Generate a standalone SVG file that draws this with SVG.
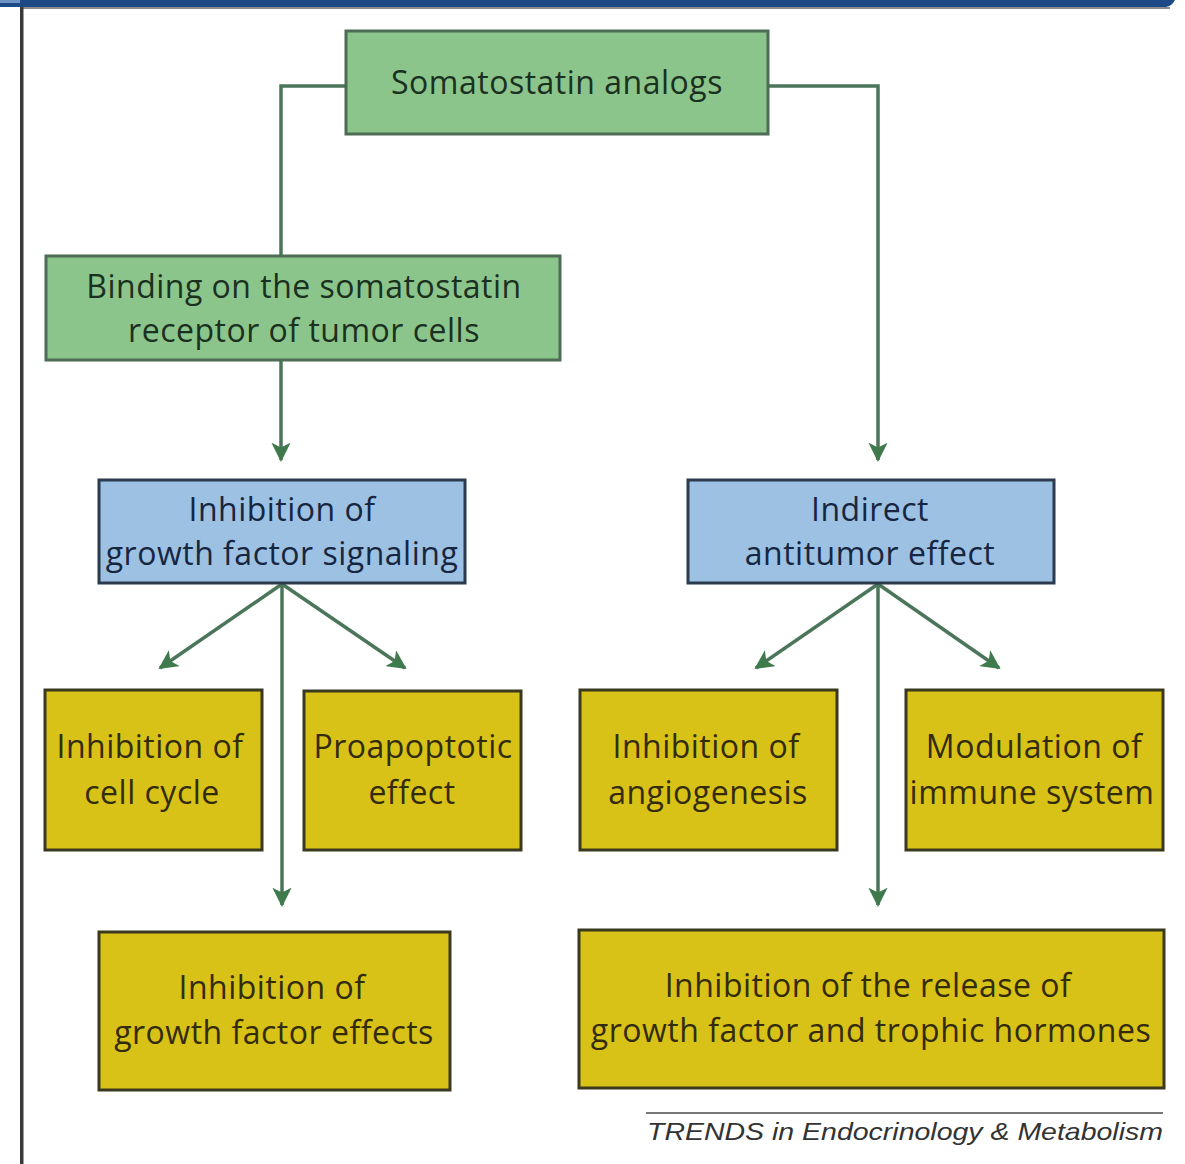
<svg xmlns="http://www.w3.org/2000/svg" width="1185" height="1164" viewBox="0 0 1185 1164">
<defs>
<style>
.box{stroke-width:3}
.g{fill:#8cc58b;stroke:#4d6b55}
.b{fill:#9dc1e3;stroke:#2b3a4c}
.y{fill:#d9c217;stroke:#3b3820}
.t{font-family:"Open Sans",Lato,sans-serif;font-size:32px;letter-spacing:0.5px;text-anchor:middle}
.tg{fill:#1a3020}
.tb{fill:#172640}
.ty{fill:#332c0c}
.c{fill:none;stroke:#4b765a;stroke-width:3.5}
</style>
<marker id="ah" viewBox="0 0 10 10" refX="9" refY="5" markerWidth="5.5" markerHeight="5.5" markerUnits="strokeWidth" orient="auto">
<path d="M0,0 L10,5 L0,10 L2.5,5 Z" fill="#3f7a4c"/>
</marker>
</defs>
<rect width="1185" height="1164" fill="#ffffff"/>
<path d="M0,0 H1175 Q1172,6 1166,7 H0 Z" fill="#1d4a86"/>
<rect x="0" y="0" width="20" height="3" fill="#6f93c4"/>
<rect x="20" y="7" width="1150" height="2" fill="#8c8c8c"/>
<rect x="20" y="7" width="3.5" height="1157" fill="#3a3a3a"/>

<g id="connectors">
<path class="c" d="M346,86 H281 V255"/>
<path class="c" d="M768,86 H878 V460" marker-end="url(#ah)"/>
<path class="c" d="M281,360 V460" marker-end="url(#ah)"/>
<path class="c" d="M282,584 L160,668" marker-end="url(#ah)"/>
<path class="c" d="M282,584 L405,668" marker-end="url(#ah)"/>
<path class="c" d="M282,584 V905" marker-end="url(#ah)"/>
<path class="c" d="M878,584 L756,668" marker-end="url(#ah)"/>
<path class="c" d="M878,584 L999,668" marker-end="url(#ah)"/>
<path class="c" d="M878,584 V905" marker-end="url(#ah)"/>
</g>

<g id="n-somatostatin">
<rect class="box g" x="346" y="31" width="422" height="103"/>
<text class="t tg" x="557" y="94">Somatostatin analogs</text>
</g>
<g id="n-binding">
<rect class="box g" x="46" y="256" width="514" height="104"/>
<text class="t tg" x="304" y="298">Binding on the somatostatin</text>
<text class="t tg" x="304" y="342">receptor of tumor cells</text>
</g>
<g id="n-signaling">
<rect class="box b" x="99" y="480" width="366" height="103"/>
<text class="t tb" x="282" y="521">Inhibition of</text>
<text class="t tb" x="282" y="565">growth factor signaling</text>
</g>
<g id="n-indirect">
<rect class="box b" x="688" y="480" width="366" height="103"/>
<text class="t tb" x="870" y="521">Indirect</text>
<text class="t tb" x="870" y="565">antitumor effect</text>
</g>
<g id="n-cellcycle">
<rect class="box y" x="45" y="690" width="217" height="160"/>
<text class="t ty" x="150" y="758">Inhibition of</text>
<text class="t ty" x="152" y="804">cell cycle</text>
</g>
<g id="n-proapoptotic">
<rect class="box y" x="304" y="691" width="217" height="159"/>
<text class="t ty" x="413" y="758">Proapoptotic</text>
<text class="t ty" x="412" y="804">effect</text>
</g>
<g id="n-angiogenesis">
<rect class="box y" x="580" y="690" width="257" height="160"/>
<text class="t ty" x="706" y="758">Inhibition of</text>
<text class="t ty" x="708" y="804">angiogenesis</text>
</g>
<g id="n-immune">
<rect class="box y" x="906" y="690" width="257" height="160"/>
<text class="t ty" x="1034" y="758">Modulation of</text>
<text class="t ty" x="1032" y="804">immune system</text>
</g>
<g id="n-gfeffects">
<rect class="box y" x="99" y="932" width="351" height="158"/>
<text class="t ty" x="272" y="999">Inhibition of</text>
<text class="t ty" x="274" y="1044">growth factor effects</text>
</g>
<g id="n-release">
<rect class="box y" x="579" y="930" width="585" height="158"/>
<text class="t ty" x="868" y="997">Inhibition of the release of</text>
<text class="t ty" x="871" y="1042">growth factor and trophic hormones</text>
</g>

<g id="footer">
<line x1="646" y1="1113" x2="1163" y2="1113" stroke="#777" stroke-width="2"/>
<text x="1163" y="1140" text-anchor="end" font-family="'Liberation Sans',Arial,sans-serif" font-style="italic" font-size="24" fill="#333" textLength="516" lengthAdjust="spacingAndGlyphs">TRENDS in Endocrinology &amp; Metabolism</text>
</g>
</svg>
